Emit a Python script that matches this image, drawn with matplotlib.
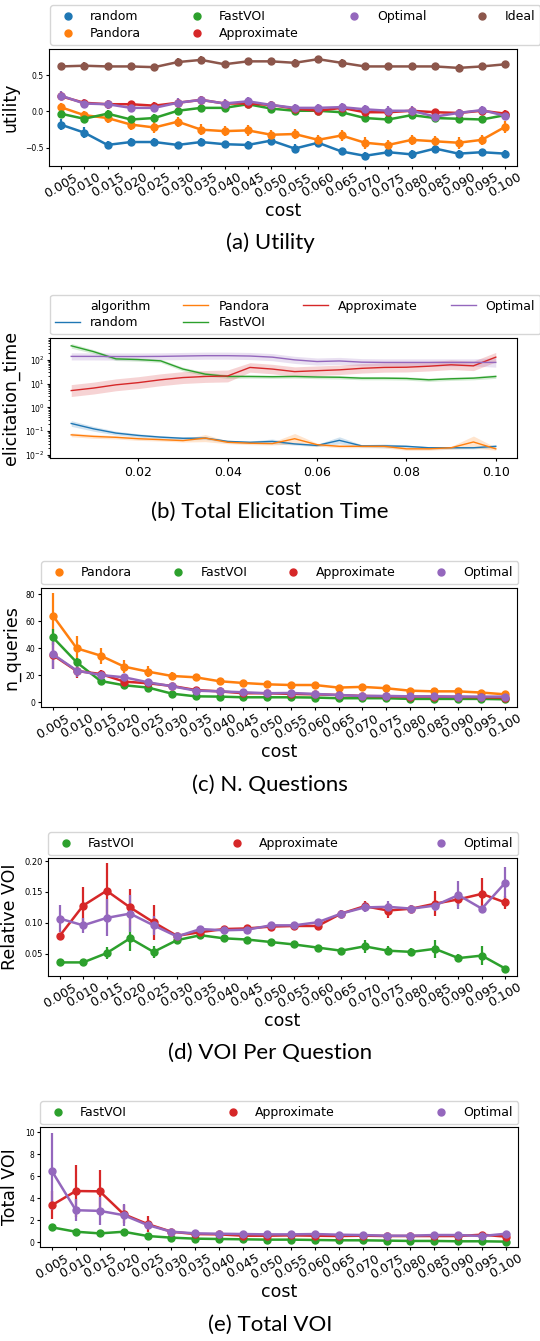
import matplotlib.pyplot as plt
import numpy as np
from matplotlib.lines import Line2D

# cost levels shared by every panel
costs = [0.005, 0.010, 0.015, 0.020, 0.025, 0.030, 0.035, 0.040, 0.045, 0.050,
         0.055, 0.060, 0.065, 0.070, 0.075, 0.080, 0.085, 0.090, 0.095, 0.100]
cost_labels = ["%.3f" % c for c in costs]

colors = {"random": "#1f77b4", "Pandora": "#ff7f0e", "FastVOI": "#2ca02c",
          "Approximate": "#d62728", "Optimal": "#9467bd", "Ideal": "#8c564b"}

# (a) utility
utility = {
    "random": [-0.18, -0.29, -0.46, -0.42, -0.42, -0.46, -0.42, -0.45, -0.46, -0.40,
               -0.51, -0.43, -0.55, -0.61, -0.56, -0.59, -0.51, -0.58, -0.56, -0.58],
    "Pandora": [0.06, -0.05, -0.09, -0.18, -0.22, -0.14, -0.25, -0.27, -0.26, -0.32,
                -0.31, -0.39, -0.33, -0.43, -0.46, -0.39, -0.41, -0.43, -0.39, -0.21],
    "FastVOI": [-0.03, -0.10, -0.03, -0.11, -0.09, 0.01, 0.05, 0.05, 0.10, 0.04,
                0.01, 0.01, -0.01, -0.09, -0.11, -0.05, -0.09, -0.10, -0.11, -0.05],
    "Approximate": [0.21, 0.12, 0.10, 0.10, 0.08, 0.12, 0.16, 0.11, 0.11, 0.09,
                    0.04, 0.01, 0.05, -0.01, -0.01, 0.01, -0.01, -0.02, 0.01, -0.03],
    "Optimal": [0.22, 0.11, 0.10, 0.05, 0.05, 0.12, 0.16, 0.11, 0.14, 0.09,
                0.05, 0.05, 0.06, 0.03, 0.01, 0.01, -0.07, -0.02, 0.02, -0.06],
    "Ideal": [0.62, 0.63, 0.62, 0.62, 0.61, 0.68, 0.71, 0.65, 0.69, 0.69,
              0.67, 0.72, 0.67, 0.62, 0.62, 0.62, 0.62, 0.60, 0.62, 0.65],
}
utility_err = {
    "random": [0.08, 0.08, 0.06, 0.06, 0.05, 0.04, 0.05, 0.05, 0.05, 0.06,
               0.06, 0.04, 0.05, 0.05, 0.05, 0.06, 0.05, 0.05, 0.05, 0.05],
    "Pandora": [0.06, 0.06, 0.07, 0.07, 0.07, 0.07, 0.08, 0.07, 0.08, 0.07,
                0.07, 0.06, 0.07, 0.08, 0.07, 0.07, 0.07, 0.08, 0.07, 0.08],
    "FastVOI": [0.05, 0.05, 0.05, 0.05, 0.05, 0.05, 0.05, 0.05, 0.05, 0.05,
                0.05, 0.05, 0.05, 0.05, 0.05, 0.05, 0.05, 0.05, 0.05, 0.06],
    "Approximate": [0.05, 0.05, 0.05, 0.05, 0.05, 0.05, 0.05, 0.05, 0.05, 0.05,
                    0.05, 0.05, 0.05, 0.05, 0.05, 0.05, 0.05, 0.05, 0.05, 0.05],
    "Optimal": [0.06, 0.06, 0.06, 0.06, 0.06, 0.06, 0.06, 0.06, 0.06, 0.06,
                0.06, 0.06, 0.06, 0.06, 0.06, 0.06, 0.06, 0.06, 0.06, 0.06],
    "Ideal": [0.05, 0.05, 0.05, 0.05, 0.05, 0.05, 0.05, 0.05, 0.05, 0.05,
              0.05, 0.05, 0.05, 0.05, 0.05, 0.05, 0.05, 0.05, 0.05, 0.05],
}

# (b) elicitation time (seconds, log scale) and band half-width in decades
elic_time = {
    "random": [0.21, 0.125, 0.083, 0.066, 0.056, 0.050, 0.051, 0.037, 0.034, 0.037,
               0.029, 0.025, 0.041, 0.024, 0.024, 0.023, 0.020, 0.020, 0.020, 0.023],
    "Pandora": [0.070, 0.060, 0.055, 0.048, 0.044, 0.040, 0.051, 0.034, 0.031, 0.030,
                0.048, 0.027, 0.023, 0.023, 0.023, 0.018, 0.018, 0.020, 0.035, 0.018],
    "FastVOI": [390, 222, 110, 103, 91, 41, 25, 20, 20, 19.5,
                20, 19, 18.5, 17, 17, 16.5, 14.5, 16, 17, 20],
    "Approximate": [5.1, 6.5, 8.9, 11, 14.5, 18, 20, 21, 48, 41,
                    32, 35, 38, 44, 48, 49, 54, 62, 56, 130],
    "Optimal": [140, 140, 138, 138, 140, 145, 150, 150, 145, 130,
                100, 85, 90, 80, 78, 78, 78, 78, 78, 78],
}
elic_band = {
    "random": [0.12, 0.10, 0.08, 0.07, 0.06, 0.06, 0.06, 0.05, 0.05, 0.10,
               0.05, 0.05, 0.15, 0.05, 0.08, 0.05, 0.05, 0.05, 0.05, 0.06],
    "Pandora": [0.08, 0.08, 0.07, 0.07, 0.06, 0.06, 0.15, 0.06, 0.06, 0.06,
                0.22, 0.06, 0.06, 0.06, 0.07, 0.06, 0.06, 0.06, 0.25, 0.06],
    "FastVOI": [0.10, 0.08, 0.07, 0.07, 0.07, 0.08, 0.08, 0.08, 0.07, 0.07,
                0.07, 0.07, 0.07, 0.07, 0.07, 0.07, 0.07, 0.07, 0.07, 0.08],
    "Approximate": [0.25, 0.25, 0.25, 0.25, 0.25, 0.25, 0.25, 0.25, 0.20, 0.20,
                    0.20, 0.20, 0.20, 0.20, 0.20, 0.20, 0.20, 0.20, 0.20, 0.20],
    "Optimal": [0.15, 0.15, 0.15, 0.15, 0.15, 0.15, 0.15, 0.15, 0.15, 0.15,
                0.15, 0.15, 0.15, 0.15, 0.15, 0.15, 0.15, 0.15, 0.15, 0.20],
}

# (c) number of queries
n_queries = {
    "Pandora": [64.2, 40.0, 34.6, 26.4, 22.7, 19.5, 18.5, 15.6, 14.3, 13.3,
                12.8, 12.8, 10.9, 11.4, 10.4, 8.6, 8.1, 8.1, 7.2, 5.9],
    "FastVOI": [48.1, 29.6, 15.8, 12.6, 10.9, 6.4, 4.4, 4.2, 3.7, 3.7,
                3.7, 3.5, 3.0, 3.0, 3.0, 2.5, 2.5, 2.5, 2.5, 2.2],
    "Approximate": [35.0, 23.2, 21.0, 15.3, 14.1, 12.1, 9.1, 8.1, 6.7, 6.7,
                    6.2, 5.9, 5.4, 4.7, 4.4, 4.2, 4.2, 4.0, 3.7, 3.5],
    "Optimal": [35.6, 23.5, 20.2, 18.5, 14.8, 11.9, 8.6, 8.1, 7.4, 6.7,
                6.9, 6.2, 5.4, 4.7, 4.7, 4.4, 4.4, 4.2, 4.2, 4.2],
}
n_queries_err = {
    "Pandora": [17, 9, 6, 5, 4, 3, 2.5, 2, 2, 1.5,
                1.5, 1.5, 1.5, 1.5, 1.5, 1.2, 1.2, 1.2, 1, 1],
    "FastVOI": [6, 3, 1.5, 1.2, 1, 1, 0.8, 0.8, 0.6, 0.6,
                0.6, 0.5, 0.5, 0.5, 0.5, 0.5, 0.5, 0.5, 0.5, 0.5],
    "Approximate": [10, 5, 3, 2, 2, 1.5, 1.5, 1.2, 1, 1,
                    1, 1, 1, 0.8, 0.8, 0.8, 0.8, 0.8, 0.8, 0.8],
    "Optimal": [11, 5, 3, 2, 2, 1.5, 1.5, 1.2, 1, 1,
                1, 1, 1, 0.8, 0.8, 0.8, 0.8, 0.8, 0.8, 0.8],
}

# (d) relative VOI per question
rel_voi = {
    "FastVOI": [0.036, 0.036, 0.051, 0.075, 0.053, 0.072, 0.080, 0.075, 0.073, 0.069,
                0.065, 0.060, 0.055, 0.062, 0.055, 0.053, 0.058, 0.043, 0.047, 0.026],
    "Approximate": [0.079, 0.128, 0.152, 0.125, 0.101, 0.079, 0.085, 0.090, 0.091, 0.094,
                    0.095, 0.095, 0.115, 0.127, 0.120, 0.123, 0.131, 0.138, 0.147, 0.133],
    "Optimal": [0.107, 0.096, 0.108, 0.115, 0.096, 0.078, 0.090, 0.088, 0.089, 0.096,
                0.096, 0.101, 0.115, 0.125, 0.126, 0.123, 0.128, 0.145, 0.123, 0.165],
}
rel_voi_err = {
    "FastVOI": [0.005, 0.003, 0.010, 0.020, 0.010, 0.004, 0.003, 0.003, 0.003, 0.003,
                0.003, 0.003, 0.003, 0.010, 0.007, 0.006, 0.015, 0.006, 0.015, 0.002],
    "Approximate": [0.005, 0.030, 0.045, 0.030, 0.028, 0.004, 0.004, 0.004, 0.004, 0.004,
                    0.004, 0.004, 0.006, 0.008, 0.012, 0.006, 0.020, 0.010, 0.025, 0.010],
    "Optimal": [0.022, 0.012, 0.030, 0.030, 0.015, 0.004, 0.005, 0.005, 0.005, 0.004,
                0.004, 0.005, 0.006, 0.008, 0.010, 0.006, 0.008, 0.022, 0.005, 0.025],
}

# (e) total VOI
total_voi = {
    "FastVOI": [1.36, 0.96, 0.81, 0.96, 0.57, 0.42, 0.33, 0.30, 0.27, 0.24,
                0.24, 0.21, 0.18, 0.18, 0.15, 0.12, 0.12, 0.09, 0.09, 0.06],
    "Approximate": [3.38, 4.67, 4.64, 2.56, 1.66, 0.96, 0.75, 0.72, 0.60, 0.60,
                    0.63, 0.60, 0.57, 0.60, 0.57, 0.57, 0.57, 0.57, 0.69, 0.51],
    "Optimal": [6.48, 2.92, 2.86, 2.47, 1.57, 0.96, 0.81, 0.78, 0.75, 0.72,
                0.72, 0.75, 0.69, 0.66, 0.60, 0.60, 0.66, 0.66, 0.57, 0.78],
}
total_voi_err = {
    "FastVOI": [0.15, 0.10, 0.10, 0.10, 0.08, 0.05, 0.05, 0.05, 0.05, 0.05,
                0.05, 0.05, 0.05, 0.05, 0.05, 0.05, 0.05, 0.05, 0.05, 0.05],
    "Approximate": [1.3, 2.4, 1.9, 0.8, 0.7, 0.15, 0.10, 0.10, 0.10, 0.10,
                    0.10, 0.10, 0.10, 0.10, 0.10, 0.10, 0.10, 0.10, 0.15, 0.10],
    "Optimal": [3.5, 1.0, 1.3, 1.0, 0.4, 0.15, 0.10, 0.10, 0.10, 0.10,
                0.10, 0.10, 0.10, 0.10, 0.10, 0.10, 0.10, 0.10, 0.10, 0.15],
}

W, H = 540, 1341
fig = plt.figure(figsize=(W / 100, H / 100), dpi=100)

LABEL_FS = 12.5
XTICK_FS = 9
YTICK_FS = 5.5
LEG_FS = 9
CAP_FONT = ["Lato", "DejaVu Sans"]


def px_axes(left, right, top, bottom):
    # axes from pixel box of the reference picture
    return fig.add_axes([left / W, 1 - bottom / H, (right - left) / W, (bottom - top) / H])


def px_legend(ax, handles, left, right, top, bottom, ncol):
    ax.legend(handles=handles, loc="center", mode="expand", ncol=ncol,
              bbox_to_anchor=(left / W, 1 - bottom / H, (right - left) / W, (bottom - top) / H),
              bbox_transform=fig.transFigure, fontsize=LEG_FS, borderaxespad=0,
              handletextpad=0.8, labelspacing=0.3)


def dot_handles(names):
    return [Line2D([], [], color=colors[n], marker="o", ls="", ms=5, label=n) for n in names]


def point_panel(ax, data, err, names, ylabel, ytick_fs=YTICK_FS):
    x = np.arange(len(costs))
    for n in names:
        ax.errorbar(x, data[n], yerr=err[n], color=colors[n], marker="o", ms=5,
                    lw=1.8, elinewidth=1.6, capsize=0)
    ax.set_xlim(-0.5, len(costs) - 0.5)
    ax.set_xticks(x)
    ax.set_xticklabels(cost_labels, rotation=30, fontsize=XTICK_FS)
    ax.tick_params(axis="y", labelsize=ytick_fs, length=2.5, pad=1.5)
    ax.tick_params(axis="x", length=2.5, pad=1)
    ax.set_ylabel(ylabel, fontsize=LABEL_FS)
    ax.set_xlabel("cost", fontsize=LABEL_FS, labelpad=1)


def caption(text, y):
    fig.text(0.5, 1 - y / H, text, ha="center", va="center", fontsize=16, family=CAP_FONT)


# (a) Utility
names_a = ["random", "Pandora", "FastVOI", "Approximate", "Optimal", "Ideal"]
ax = px_axes(49, 517, 49, 166)
point_panel(ax, utility, utility_err, names_a, "utility")
ax.set_ylim(-0.75, 0.86)
ax.set_yticks([-0.5, 0.0, 0.5])
px_legend(ax, dot_handles(names_a), 50, 540, 4, 46, 4)
caption("(a) Utility", 243)

# (b) Total elicitation time
names_b = ["random", "Pandora", "FastVOI", "Approximate", "Optimal"]
ax = px_axes(50, 517, 338, 458)
for n in names_b:
    vals = np.array(elic_time[n])
    band = 10 ** np.array(elic_band[n])
    ax.plot(costs, vals, color=colors[n], lw=1.0)
    ax.fill_between(costs, vals / band, vals * band, color=colors[n], alpha=0.2, lw=0)
ax.set_yscale("log")
ax.set_ylim(10 ** -2.13, 10 ** 2.92)
ax.tick_params(axis="y", which="both", labelsize=YTICK_FS, pad=1.5)
ax.tick_params(axis="y", which="major", length=2.5)
ax.tick_params(axis="y", which="minor", length=1.5)
ax.tick_params(axis="x", labelsize=XTICK_FS, length=2.5)
ax.set_ylabel("elicitation_time", fontsize=LABEL_FS)
ax.set_xlabel("cost", fontsize=LABEL_FS, labelpad=1)
handles_b = [Line2D([], [], color="none", label="algorithm")]
handles_b += [Line2D([], [], color=colors[n], lw=1.0, label=n) for n in names_b]
px_legend(ax, handles_b, 50, 540, 294, 335, 4)
caption("(b) Total Elicitation Time", 512)

# (c) N. Questions
names_c = ["Pandora", "FastVOI", "Approximate", "Optimal"]
ax = px_axes(41, 517, 588, 707)
point_panel(ax, n_queries, n_queries_err, names_c, "n_queries")
ax.set_ylim(-3.5, 84.7)
ax.set_yticks([0, 20, 40, 60, 80])
px_legend(ax, dot_handles(names_c), 41, 518, 561, 585, 4)
caption("(c) N. Questions", 785)

# (d) VOI per question
names_d = ["FastVOI", "Approximate", "Optimal"]
ax = px_axes(48, 517, 858, 976)
point_panel(ax, rel_voi, rel_voi_err, names_d, "Relative VOI", ytick_fs=6)
ax.set_ylim(0.014, 0.205)
ax.set_yticks([0.05, 0.10, 0.15, 0.20])
ax.set_yticklabels(["0.05", "0.10", "0.15", "0.20"])
px_legend(ax, dot_handles(names_d), 48, 518, 832, 855, 3)
caption("(d) VOI Per Question", 1053)

# (e) Total VOI
ax = px_axes(40, 518, 1127, 1247)
point_panel(ax, total_voi, total_voi_err, names_d, "Total VOI")
ax.set_ylim(-0.43, 10.5)
ax.set_yticks([0, 2, 4, 6, 8, 10])
px_legend(ax, dot_handles(names_d), 40, 518, 1101, 1124, 3)
caption("(e) Total VOI", 1325)

fig.savefig("out.png", dpi=100)
